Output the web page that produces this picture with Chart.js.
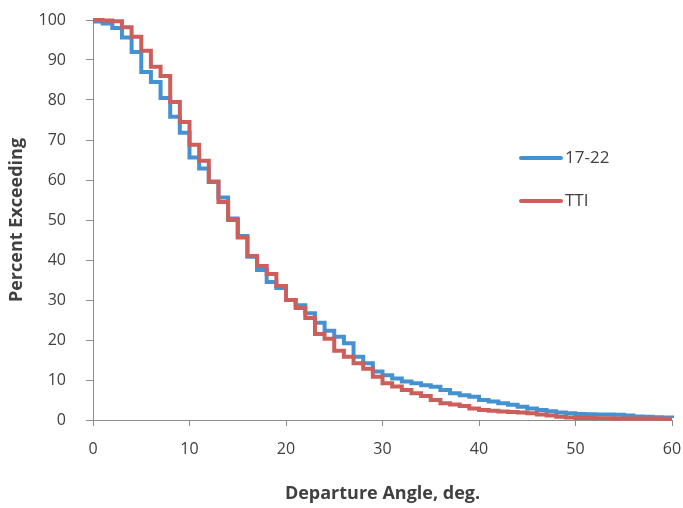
<!DOCTYPE html>
<html>
<head>
<meta charset="utf-8">
<script src="https://cdn.jsdelivr.net/npm/chart.js@4.4.0/dist/chart.umd.min.js"></script>
<style>
  html, body { margin: 0; padding: 0; background: #ffffff; }
  #wrap { width: 683px; height: 508px; }
</style>
</head>
<body>
<div id="wrap"><canvas id="angleChart" width="683" height="508"></canvas></div>
<script>
// departure angle (deg) at each step
const angles = [0, 1, 2, 3, 4, 5, 6, 7, 8, 9,
    10, 11, 12, 13, 14, 15, 16, 17, 18, 19,
    20, 21, 22, 23, 24, 25, 26, 27, 28, 29,
    30, 31, 32, 33, 34, 35, 36, 37, 38, 39,
    40, 41, 42, 43, 44, 45, 46, 47, 48, 49,
    50, 51, 52, 53, 54, 55, 56, 57, 58, 59, 60];

// percent exceeding, 17-22 data
const pct1722 = [99.6, 99.1, 98.0, 95.6, 92.0, 87.0, 84.5, 80.5, 75.8, 71.8,
    65.6, 62.9, 59.5, 55.6, 50.4, 46.0, 40.8, 37.5, 34.5, 33.0,
    30.0, 28.7, 26.7, 24.3, 22.3, 20.8, 19.2, 15.8, 14.2, 12.1,
    11.2, 10.4, 9.6, 9.2, 8.7, 8.3, 7.5, 6.7, 6.2, 5.8,
    5.0, 4.6, 4.2, 3.8, 3.3, 2.9, 2.5, 2.2, 1.9, 1.7,
    1.5, 1.45, 1.4, 1.4, 1.3, 1.1, 0.9, 0.8, 0.7, 0.6, 0.5];

// percent exceeding, TTI data
const pctTTI = [100, 99.9, 99.7, 98.2, 95.8, 92.3, 88.3, 86.0, 79.5, 74.5,
    68.8, 64.8, 59.6, 54.5, 50.0, 45.6, 41.0, 38.5, 36.5, 33.5,
    30.0, 28.0, 25.5, 21.5, 20.3, 17.3, 15.8, 14.2, 12.8, 10.8,
    9.2, 8.4, 7.5, 6.7, 6.0, 5.0, 4.2, 3.9, 3.5, 2.9,
    2.5, 2.3, 2.1, 2.0, 1.9, 1.7, 1.4, 1.1, 0.8, 0.6,
    0.5, 0.5, 0.45, 0.45, 0.4, 0.4, 0.4, 0.35, 0.35, 0.3, 0.3];

const seriesLabels = ['17-22', 'TTI'];
const xTicks = [0, 10, 20, 30, 40, 50, 60];
const yTicks = [0, 10, 20, 30, 40, 50, 60, 70, 80, 90, 100];

const FONT = "'Open Sans', 'Liberation Sans', sans-serif";
const TEXT = '#404040';
const AXIS = '#8c8c8c';

function toPoints(ys) {
    return angles.map((a, i) => ({ x: a, y: ys[i] }));
}

// legend drawn inside the plot, like the original
const innerLegend = {
    id: 'innerLegend',
    afterDatasetsDraw(chart) {
        const ctx = chart.ctx;
        const rows = [158, 201];
        ctx.save();
        chart.data.datasets.forEach((ds, i) => {
            const y = rows[i];
            ctx.strokeStyle = ds.borderColor;
            ctx.lineWidth = 4;
            ctx.lineCap = 'round';
            ctx.beginPath();
            ctx.moveTo(521, y);
            ctx.lineTo(561, y);
            ctx.stroke();
            ctx.fillStyle = TEXT;
            ctx.font = '17px ' + FONT;
            ctx.textBaseline = 'middle';
            ctx.fillText(ds.label, 565, y);
        });
        ctx.restore();
    }
};

const ctx = document.getElementById('angleChart').getContext('2d');
new Chart(ctx, {
    type: 'line',
    data: {
        datasets: [{
            label: seriesLabels[0],
            data: toPoints(pct1722),
            borderColor: '#4592d3',
            borderWidth: 4,
            stepped: 'before',
            pointRadius: 0,
            clip: false,
            order: 2
        }, {
            label: seriesLabels[1],
            data: toPoints(pctTTI),
            borderColor: '#cc5f5b',
            borderWidth: 4,
            stepped: 'before',
            pointRadius: 0,
            clip: false,
            order: 1
        }]
    },
    options: {
        responsive: false,
        animation: false,
        layout: { padding: { left: 0, right: 11, top: 20, bottom: 0 } },
        plugins: {
            legend: { display: false },
            tooltip: { enabled: false }
        },
        scales: {
            x: {
                type: 'linear',
                min: 0,
                max: 60,
                afterBuildTicks: s => { s.ticks = xTicks.map(v => ({ value: v })); },
                afterFit: s => { s.height = 88; s.paddingLeft = 0; s.paddingRight = 0; },
                border: { color: AXIS, width: 1 },
                grid: { drawOnChartArea: false, drawTicks: true, tickLength: 6, color: AXIS },
                ticks: { color: TEXT, padding: 14, maxRotation: 0, font: { size: 16, family: FONT } },
                title: {
                    display: true,
                    text: 'Departure Angle, deg.',
                    color: TEXT,
                    padding: { top: 0, bottom: 3 },
                    font: { size: 18, weight: 'bold', family: FONT }
                }
            },
            y: {
                min: 0,
                max: 100,
                afterBuildTicks: s => { s.ticks = yTicks.map(v => ({ value: v })); },
                afterFit: s => { s.width = 93; s.paddingTop = 0; s.paddingBottom = 0; },
                border: { color: AXIS, width: 1 },
                grid: { drawOnChartArea: false, drawTicks: true, tickLength: 7, color: AXIS },
                ticks: { color: TEXT, padding: 20, font: { size: 16, family: FONT } },
                title: {
                    display: true,
                    text: 'Percent Exceeding',
                    color: TEXT,
                    padding: { top: 6, bottom: 0 },
                    font: { size: 18, weight: 'bold', family: FONT }
                }
            }
        }
    },
    plugins: [innerLegend]
});
</script>
</body>
</html>
